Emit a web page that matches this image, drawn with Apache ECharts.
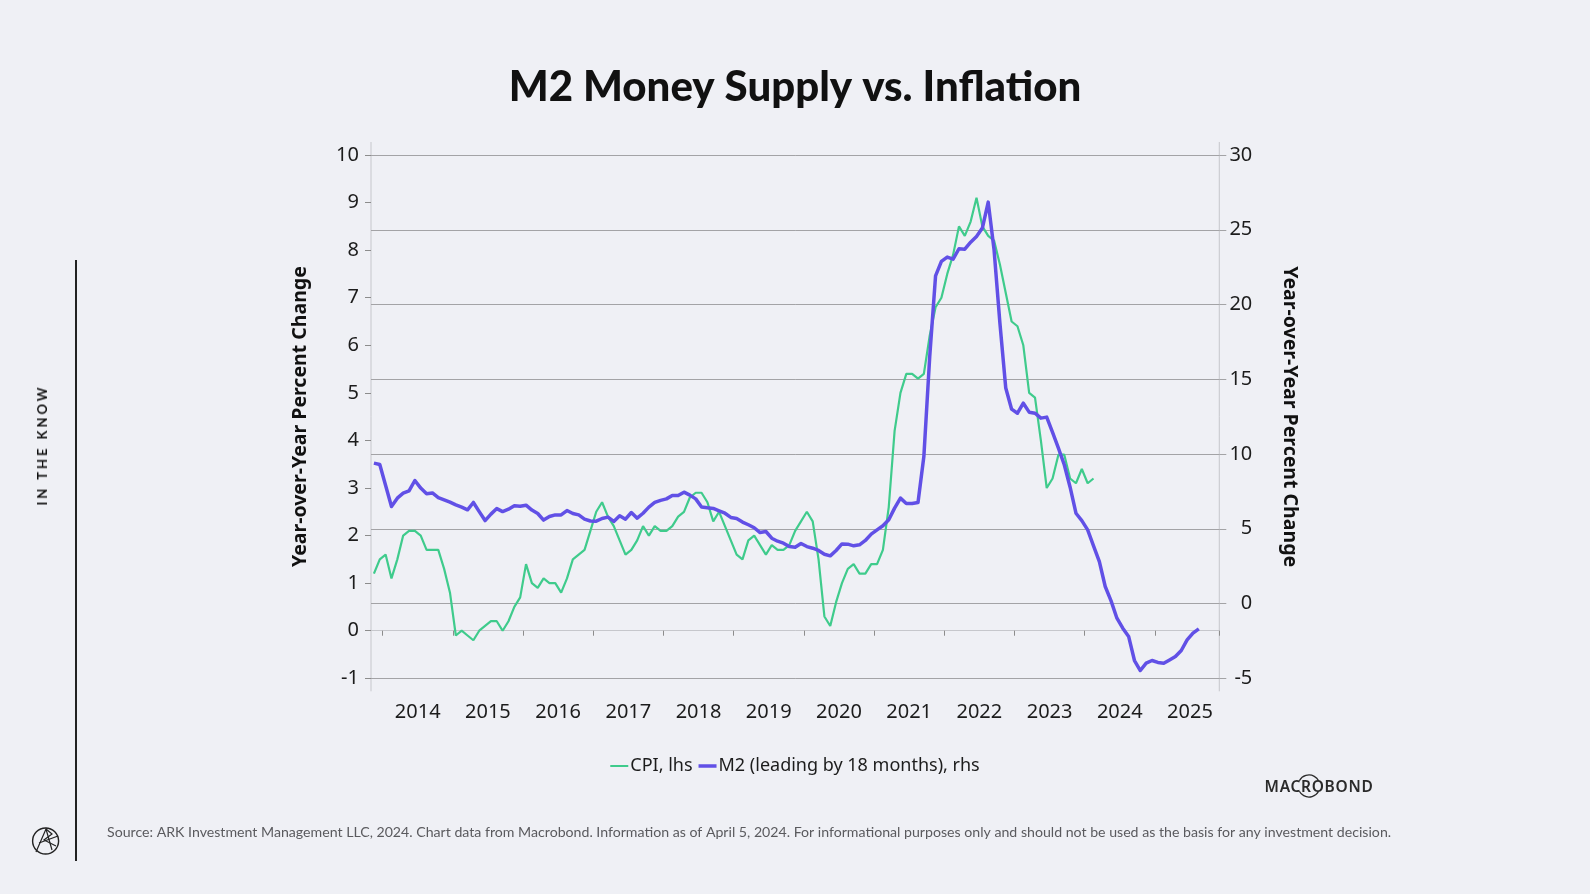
<!DOCTYPE html>
<html>
<head>
<meta charset="utf-8">
<script src="https://cdn.jsdelivr.net/npm/echarts@6/dist/echarts.min.js"></script>
<style>
html,body{margin:0;padding:0;background:#eff0f5;overflow:hidden;}
#chart{position:absolute;left:0;top:0;width:1590px;height:894px;}
#itk{position:absolute;left:41.6px;top:445px;transform:translate(-50%,-50%) rotate(-90deg);font-family:Lato,"Noto Sans",sans-serif;font-weight:bold;font-size:13px;letter-spacing:3px;color:#111;white-space:nowrap;}
#mb{position:absolute;left:1319px;top:786px;transform:translate(-50%,-50%);font-family:"Noto Sans",sans-serif;font-weight:600;font-size:15.5px;letter-spacing:0.7px;color:#2a2a2a;white-space:nowrap;}
</style>
</head>
<body>
<div id="chart"></div>
<div id="itk">IN THE KNOW</div>
<div id="mb">MACROBOND</div>
<script>
// ---- Data ----
const startYear = 2013, startMonth = 11, monthCount = 145; // Nov 2013 .. Nov 2025
const months = [];
for (let k = 0; k < monthCount; k++) {
  const m = (startMonth - 1 + k) % 12 + 1;
  const y = startYear + Math.floor((startMonth - 1 + k) / 12);
  months.push(y + '-' + String(m).padStart(2, '0'));
}

// CPI YoY %, Nov 2013 .. Feb 2024 (lhs)
const cpi = [
  1.2, 1.5,
  1.6, 1.1, 1.5, 2.0, 2.1, 2.1, 2.0, 1.7, 1.7, 1.7, 1.3, 0.8,
  -0.1, 0.0, -0.1, -0.2, 0.0, 0.1, 0.2, 0.2, 0.0, 0.2, 0.5, 0.7,
  1.4, 1.0, 0.9, 1.1, 1.0, 1.0, 0.8, 1.1, 1.5, 1.6, 1.7, 2.1,
  2.5, 2.7, 2.4, 2.2, 1.9, 1.6, 1.7, 1.9, 2.2, 2.0, 2.2, 2.1,
  2.1, 2.2, 2.4, 2.5, 2.8, 2.9, 2.9, 2.7, 2.3, 2.5, 2.2, 1.9,
  1.6, 1.5, 1.9, 2.0, 1.8, 1.6, 1.8, 1.7, 1.7, 1.8, 2.1, 2.3,
  2.5, 2.3, 1.5, 0.3, 0.1, 0.6, 1.0, 1.3, 1.4, 1.2, 1.2, 1.4,
  1.4, 1.7, 2.6, 4.2, 5.0, 5.4, 5.4, 5.3, 5.4, 6.2, 6.8, 7.0,
  7.5, 7.9, 8.5, 8.3, 8.6, 9.1, 8.5, 8.3, 8.2, 7.7, 7.1, 6.5,
  6.4, 6.0, 5.0, 4.9, 4.0, 3.0, 3.2, 3.7, 3.7, 3.2, 3.1, 3.4,
  3.1, 3.2
];

// M2 YoY %, leading by 18 months, plotted Nov 2013 .. Aug 2025 (rhs)
const m2 = [
  9.39, 9.30,
  7.90, 6.49, 7.05, 7.38, 7.54, 8.23, 7.72, 7.34, 7.40, 7.09, 6.94, 6.78,
  6.60, 6.45, 6.27, 6.76, 6.15, 5.55, 5.98, 6.35, 6.15, 6.31, 6.54, 6.51,
  6.58, 6.25, 6.02, 5.58, 5.82, 5.93, 5.93, 6.22, 6.02, 5.93, 5.65, 5.52,
  5.51, 5.69, 5.78, 5.49, 5.87, 5.64, 6.09, 5.71, 6.04, 6.45, 6.76, 6.90,
  7.00, 7.23, 7.23, 7.45, 7.25, 7.00, 6.45, 6.40, 6.36, 6.20, 6.04, 5.76,
  5.69, 5.45, 5.27, 5.07, 4.75, 4.82, 4.37, 4.17, 4.04, 3.81, 3.77, 4.02,
  3.81, 3.70, 3.55, 3.30, 3.19, 3.55, 3.99, 3.97, 3.86, 3.93, 4.22, 4.64,
  4.93, 5.20, 5.60, 6.38, 7.05, 6.69, 6.69, 6.76, 9.83, 16.5, 21.92, 22.88,
  23.17, 23.03, 23.73, 23.70, 24.17, 24.55, 25.11, 26.85, 23.66, 18.75, 14.41, 13.00,
  12.73, 13.40, 12.80, 12.73, 12.40, 12.47, 11.45, 10.40, 9.28, 7.78, 6.04, 5.55,
  4.93, 3.86, 2.81, 1.14, 0.18, -0.98, -1.65, -2.20, -3.81, -4.48, -3.99, -3.81,
  -3.94, -3.99, -3.77, -3.54, -3.14, -2.43, -1.98, -1.69
];

const leftTicks = { min: -1, max: 10, step: 1 };
const rightTicks = { min: -5, max: 30, step: 5 };
const seriesNames = ['CPI, lhs', 'M2 (leading by 18 months), rhs'];
const axisTitle = 'Year-over-Year Percent Change';
const titleText = 'M2 Money Supply vs. Inflation';
const sourceText = 'Source: ARK Investment Management LLC, 2024. Chart data from Macrobond. Information as of April 5, 2024. For informational purposes only and should not be used as the basis for any investment decision.';

// ---- Styles ----
const GREEN = '#3fcb8c';
const PURPLE = '#6150e6';
const AXIS = '#c6c7cc';
const TICK = '#8c8c8c';
const GRID = '#a3a3a6';
const TXT = '#1c1c1c';

const chart = echarts.init(document.getElementById('chart'), null, { renderer: 'canvas' });

const option = {
  backgroundColor: '#eff0f5',
  animation: false,
  title: {
    text: titleText,
    left: 'center',
    top: 61,
    textStyle: { fontFamily: 'Lato', fontWeight: 900, fontSize: 42, color: '#111' }
  },
  legend: {
    left: 'center',
    top: 752,
    itemGap: 6,
    itemWidth: 18,
    itemHeight: 14,
    textStyle: { fontFamily: 'Noto Sans', fontSize: 18, color: TXT, padding: [0, 0, 0, -3] },
    data: [
      { name: seriesNames[0], icon: 'path://M0,0H18V2H0Z' },
      { name: seriesNames[1], icon: 'path://M0,0H18V3.5H0Z' }
    ]
  },
  grid: { left: 371, right: 370.7, top: 155, bottom: 215.7, containLabel: false },
  xAxis: {
    type: 'category',
    data: months,
    boundaryGap: true,
    offset: 13,
    axisLine: { show: true, lineStyle: { color: AXIS, width: 1 } },
    axisTick: {
      show: true, length: 5, lineStyle: { color: TICK, width: 1 },
      interval: (i, v) => v.slice(5) === '01'
    },
    axisLabel: {
      interval: (i, v) => v.slice(5) === '07',
      formatter: v => v.slice(0, 4),
      fontFamily: 'Noto Sans', fontSize: 20, color: TXT, margin: 11,
      padding: [0, 6, 0, 0]
    },
    splitLine: { show: false }
  },
  yAxis: [
    {
      type: 'value', position: 'left',
      min: leftTicks.min, max: leftTicks.max, interval: leftTicks.step,
      axisLine: { show: false },
      axisTick: { show: true, length: 6, lineStyle: { color: TICK, width: 1 } },
      axisLabel: { fontFamily: 'Noto Sans', fontSize: 20, color: TXT, margin: 12 },
      splitLine: { show: false },
      name: axisTitle, nameLocation: 'middle', nameGap: 61, nameRotate: 90,
      nameTextStyle: { fontFamily: 'Noto Sans', fontWeight: 'bold', fontSize: 19.5, color: '#111' }
    },
    {
      type: 'value', position: 'right',
      min: rightTicks.min, max: rightTicks.max, interval: rightTicks.step,
      axisLine: { show: false },
      axisTick: { show: true, length: 7, lineStyle: { color: GRID, width: 1 } },
      axisLabel: { fontFamily: 'Noto Sans', fontSize: 20, color: TXT, margin: 33, align: 'right' },
      splitLine: { show: true, lineStyle: { color: GRID, width: 1 } },
      name: axisTitle, nameLocation: 'middle', nameGap: 60, nameRotate: -90,
      nameTextStyle: { fontFamily: 'Noto Sans', fontWeight: 'bold', fontSize: 19.5, color: '#111' }
    }
  ],
  series: [
    {
      name: seriesNames[0], type: 'line', yAxisIndex: 0, data: cpi,
      showSymbol: false, symbol: 'none', smooth: false,
      lineStyle: { color: GREEN, width: 2.2 }, itemStyle: { color: GREEN }, z: 2
    },
    {
      name: seriesNames[1], type: 'line', yAxisIndex: 1, data: m2,
      showSymbol: false, symbol: 'none', smooth: false,
      lineStyle: { color: PURPLE, width: 3.5, join: 'round' }, itemStyle: { color: PURPLE }, z: 3
    }
  ],
  graphic: [
    { type: 'line', silent: true, shape: { x1: 371, y1: 142, x2: 371, y2: 691.3 }, style: { stroke: AXIS, lineWidth: 1 } },
    { type: 'line', silent: true, shape: { x1: 1219.3, y1: 142, x2: 1219.3, y2: 691.3 }, style: { stroke: AXIS, lineWidth: 1 } },
    { type: 'line', silent: true, shape: { x1: 76, y1: 260, x2: 76, y2: 861 }, style: { stroke: '#222', lineWidth: 2 } },
    { type: 'text', silent: true, left: 107, top: 825,
      style: { text: sourceText, fontFamily: 'Lato', fontSize: 14.15, fill: '#5a5a5e' } },
    { type: 'circle', silent: true, shape: { cx: 45.6, cy: 841, r: 13 }, style: { fill: 'none', stroke: '#222', lineWidth: 1.4 } },
    { type: 'polyline', silent: true, shape: { points: [[36, 852], [46, 829], [52, 850]] }, style: { fill: 'none', stroke: '#222', lineWidth: 1.2 } },
    { type: 'polyline', silent: true, shape: { points: [[46, 829], [52, 834], [44, 840], [56, 846]] }, style: { fill: 'none', stroke: '#222', lineWidth: 1.2 } },
    { type: 'line', silent: true, shape: { x1: 39, y1: 843, x2: 58, y2: 836 }, style: { stroke: '#222', lineWidth: 1.2 } },
    { type: 'arc', silent: true, shape: { cx: 1309, cy: 786, r: 11, startAngle: Math.PI + 0.5, endAngle: 2 * Math.PI - 0.5 }, style: { stroke: '#2a2a2a', lineWidth: 1.3, fill: 'none' } },
    { type: 'arc', silent: true, shape: { cx: 1309, cy: 786, r: 11, startAngle: 0.5, endAngle: Math.PI - 0.5 }, style: { stroke: '#2a2a2a', lineWidth: 1.3, fill: 'none' } }
  ]
};

chart.setOption(option);
</script>
</body>
</html>
